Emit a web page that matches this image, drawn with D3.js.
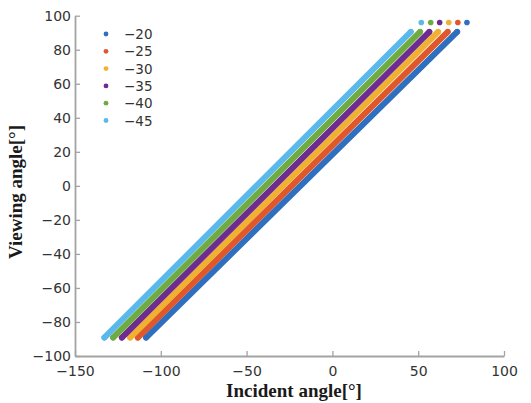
<!DOCTYPE html>
<html>
<head>
<meta charset="utf-8">
<script src="https://cdn.jsdelivr.net/npm/d3@7"></script>
<style>
  body { margin: 0; background: #fff; }
  svg { display: block; }
</style>
</head>
<body>
<div id="chart"><svg></svg></div>
<script>
const W = 531;
const H = 403;

// series values
const seriesNames = ["−20", "−25", "−30", "−35", "−40", "−45"];
const colors = ["#2e6fbf", "#e0572b", "#f0b133", "#6e2b90", "#6fac3f", "#5bb8ea"];
const incidentStart = [-108.6, -113.4, -117.9, -122.7, -127.8, -132.9];
const viewingStart = [-89.2, -89.2, -89.2, -89.2, -89.2, -89.2];
const incidentEnd = [72.7, 67.2, 61.6, 56.5, 51.1, 45.7];
const viewingEnd = [90.5, 90.5, 90.5, 90.5, 90.5, 90.5];
const incidentTop = [78.4, 73.1, 67.8, 62.5, 57.3, 51.8];
const viewingTop = [96, 96, 96, 96, 96, 96];

const xTicks = [-150, -100, -50, 0, 50, 100];
const yTicks = [-100, -80, -60, -40, -20, 0, 20, 40, 60, 80, 100];

let svg = d3.select("#chart").select("svg")
	.attr("width", W)
	.attr("height", H);

let x = d3.scaleLinear().domain([-150, 100]).range([75, 504]);
let y = d3.scaleLinear().domain([-100, 100]).range([356, 15.7]);

let fmt = d => d < 0 ? "−" + Math.abs(d) : String(d);
const tickFont = "'DejaVu Sans', 'Liberation Sans', sans-serif";

/* ***Axes*** */
let gx = svg.append("g")
	.attr("transform", `translate(0,${y(-100)})`)
	.call(d3.axisBottom(x).tickValues(xTicks).tickFormat(fmt).tickSizeInner(-5).tickSizeOuter(0).tickPadding(10));

let gy = svg.append("g")
	.attr("transform", `translate(${x(-150)},0)`)
	.call(d3.axisLeft(y).tickValues(yTicks).tickFormat(fmt).tickSizeInner(-5).tickSizeOuter(0).tickPadding(4));

[gx, gy].forEach(g => {
	g.select(".domain").attr("stroke", "#a3a3a3").attr("stroke-width", 1.8);
	g.selectAll(".tick line").attr("stroke", "#a3a3a3").attr("stroke-width", 1.3);
	g.selectAll(".tick text")
		.attr("fill", "#333")
		.style("font-family", tickFont)
		.style("font-size", "14px");
});

/* ***Bands*** */
let series = seriesNames.map((name, i) => ({
	name: name,
	color: colors[i],
	band: [[incidentStart[i], viewingStart[i]], [incidentEnd[i], viewingEnd[i]]],
	top: [incidentTop[i], viewingTop[i]]
}));

let line = d3.line().x(d => x(d[0])).y(d => y(d[1]));

let groups = svg.selectAll("g.series")
	.data(series)
	.enter()
	.append("g")
	.attr("class", "series");

groups.append("path")
	.attr("d", d => line(d.band))
	.attr("fill", "none")
	.attr("stroke", d => d.color)
	.attr("stroke-width", 6)
	.attr("stroke-linecap", "round");

groups.selectAll("circle")
	.data(d => [d.band[0], d.band[1], d.top].map(p => ({p: p, color: d.color})))
	.enter()
	.append("circle")
	.attr("cx", d => x(d.p[0]))
	.attr("cy", d => y(d.p[1]))
	.attr("r", 2.8)
	.attr("fill", d => d.color);

/* ***Legend*** */
let legend = svg.append("g")
	.attr("transform", "translate(106,34)");

legend.selectAll("circle")
	.data(series)
	.enter()
	.append("circle")
	.attr("cx", 0)
	.attr("cy", (d, i) => i * 17.3)
	.attr("r", 2.4)
	.attr("fill", d => d.color);

legend.selectAll("text")
	.data(series)
	.enter()
	.append("text")
	.text(d => d.name)
	.attr("x", 18)
	.attr("y", (d, i) => i * 17.3 + 5)
	.attr("fill", "#333")
	.style("font-family", tickFont)
	.style("font-size", "13.5px");

/* ***Titles*** */
svg.append("text")
	.text("Incident angle[°]")
	.attr("x", 294)
	.attr("y", 397)
	.attr("text-anchor", "middle")
	.attr("fill", "#1a1a1a")
	.style("font-family", "'Liberation Serif', 'Times New Roman', serif")
	.style("font-weight", "bold")
	.style("font-size", "19px");

svg.append("text")
	.text("Viewing angle[°]")
	.attr("transform", "translate(22,192) rotate(-90)")
	.attr("text-anchor", "middle")
	.attr("fill", "#1a1a1a")
	.style("font-family", "'Liberation Serif', 'Times New Roman', serif")
	.style("font-weight", "bold")
	.style("font-size", "19px");
</script>
</body>
</html>
